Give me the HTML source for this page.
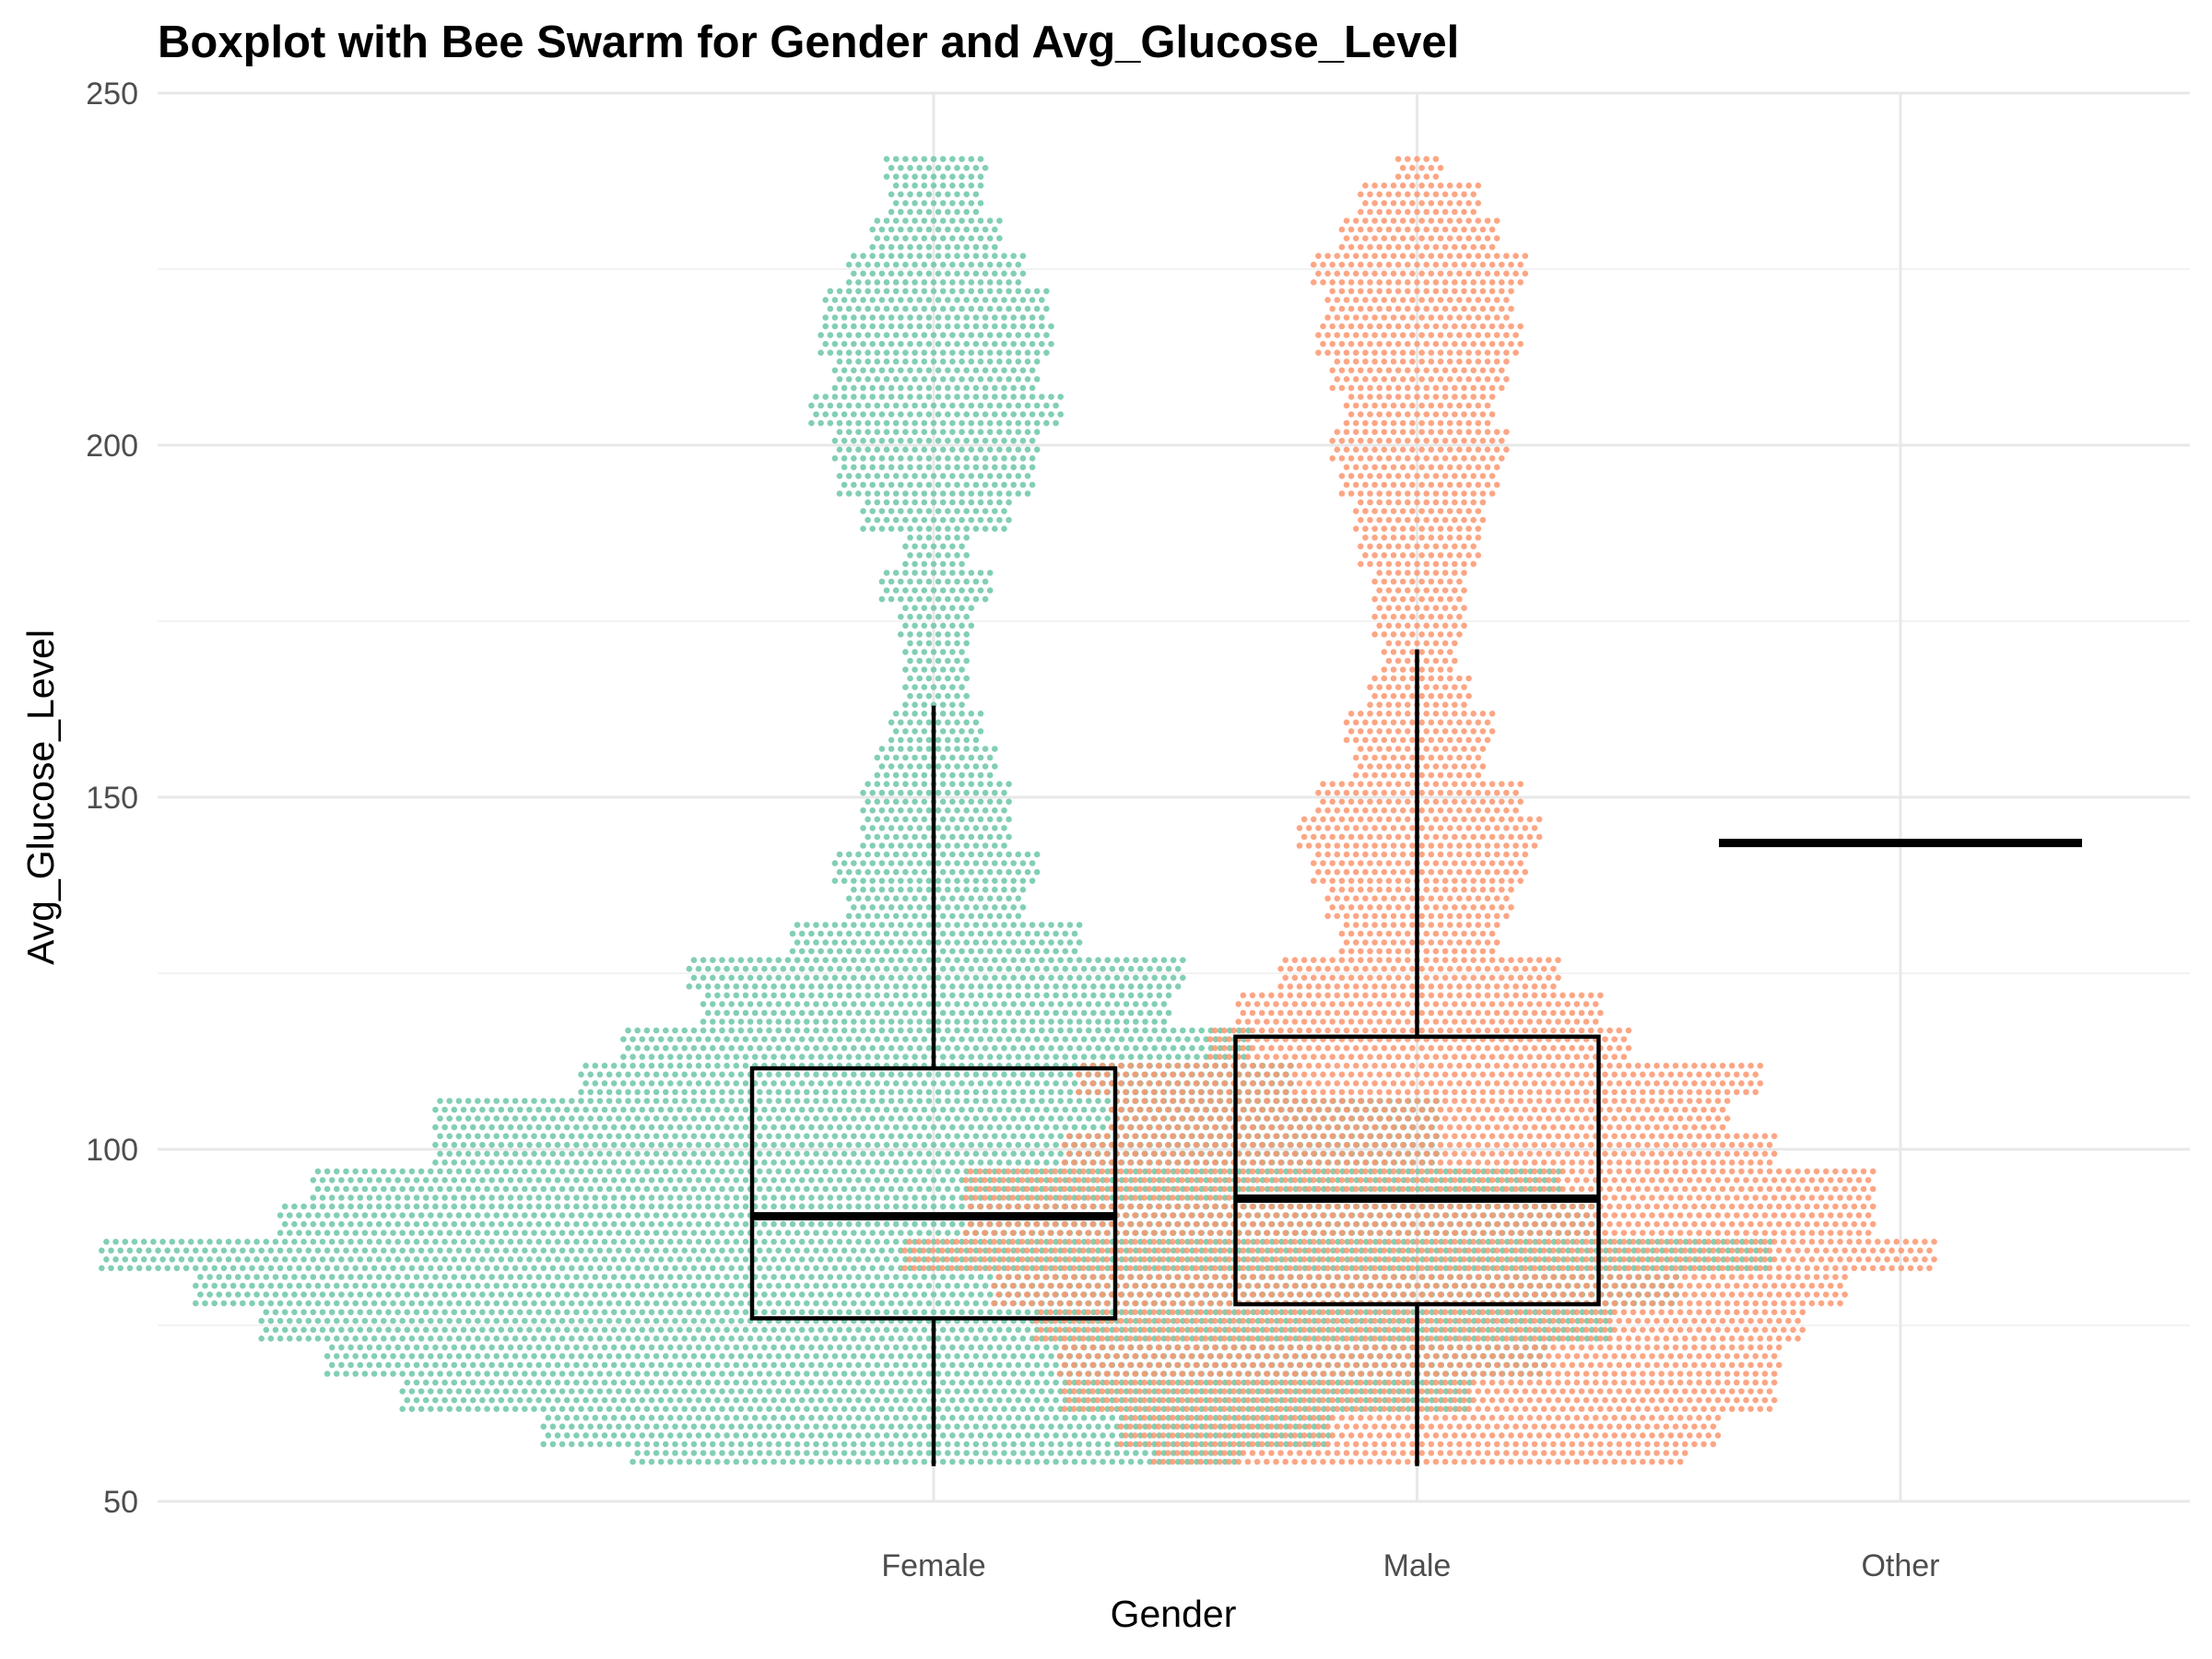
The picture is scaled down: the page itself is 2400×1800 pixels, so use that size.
<!DOCTYPE html>
<html><head><meta charset="utf-8"><style>
html,body{margin:0;padding:0;background:#fff}
svg{display:block;font-family:"Liberation Sans",Arial,sans-serif}
</style></head><body>
<svg id="chart" width="2400" height="1800" viewBox="0 0 2400 1800" xmlns="http://www.w3.org/2000/svg">
<rect width="2400" height="1800" fill="#fff"/>
<g id="grid"></g>
<g id="swarm"></g>
<g id="boxes"></g>
<g id="axes"></g>
<text x="171" y="62" font-size="49" font-weight="bold" fill="#000">Boxplot with Bee Swarm for Gender and Avg_Glucose_Level</text>
<text x="1273" y="1765" font-size="41" text-anchor="middle" fill="#000">Gender</text>
<text transform="translate(58,865) rotate(-90)" font-size="41" text-anchor="middle" fill="#000">Avg_Glucose_Level</text>
</svg>
<script>
const categories = ["Female","Male","Other"];
const yTicks = [50,100,150,200,250];
const yMinor = [75,125,175,225];
const levels = [55,60,65,70,75,80,85,90,95,100,105,110,115,120,125,130,135,140,145,150,155,160,165,170,175,180,185,190,195,200,205,210,215,220,225,230,235,240];
const femaleCounts = [65,84,114,130,144,158,178,140,133,107,107,76,67,50,53,31,19,22,16,16,13,10,7,7,8,12,7,16,21,22,27,22,25,24,19,14,10,11];
const maleCounts = [57,64,76,77,82,91,110,97,97,76,66,73,45,39,30,17,20,23,26,22,14,16,11,8,10,10,13,14,17,19,16,19,22,20,23,17,13,5];
// box stats: [whiskerLow, q1, median, q3, whiskerHigh]
const femaleBox = [55,76,90.5,111.5,163];
const maleBox = [55,78,93,116,171];
const otherBox = [143.5,143.5,143.5,143.5,143.5];

const NS="http://www.w3.org/2000/svg";
const L=171,R=2376,T=101,B=1629;
const yS=v=>B-(v-50)/(200)*(B-T);
const xS=i=>1013+i*524.5;
function mk(tag,attrs,parent){const e=document.createElementNS(NS,tag);for(const k in attrs)e.setAttribute(k,attrs[k]);parent.appendChild(e);return e;}
const grid=document.getElementById('grid'),sw=document.getElementById('swarm'),bx=document.getElementById('boxes'),ax=document.getElementById('axes');
yMinor.forEach(v=>{const l=mk('line',{x1:L,x2:R,y1:yS(v),y2:yS(v),stroke:'#efefef','stroke-width':1.6},grid);

});
yTicks.forEach(v=>{const l=mk('line',{x1:L,x2:R,y1:yS(v),y2:yS(v),stroke:'#e8e8e8','stroke-width':3},grid);


const t=mk('text',{x:150,y:yS(v)+12,'font-size':34,'text-anchor':'end',fill:'#4d4d4d'},ax);t.textContent=v;

});
categories.forEach((c,i)=>{const l=mk('line',{x1:xS(i),x2:xS(i),y1:T,y2:B,stroke:'#e8e8e8','stroke-width':3},grid);


const t=mk('text',{x:xS(i),y:1710,'font-size':34,'text-anchor':'middle',fill:'#4d4d4d'},ax);t.textContent=c;

});

const rowOffsets=[-1.875,-0.625,0.625,1.875];
function swarm(counts,ci,color,name){
  const g=mk('g',{fill:color,'fill-opacity':0.85},sw);
  
  
  const cx=xS(ci),sp=10.2;
  levels.forEach((lv,k)=>{
    const n=counts[k];
    rowOffsets.forEach((d,ri)=>{
      const v=lv+d; if(v<55||v>241) return;
      const off=(ri%2===0)?0:sp/2;
      for(let j=0;j<n;j++){
        const x=cx+(j-(n-1)/2)*sp+off;
        mk('circle',{cx:x.toFixed(1),cy:yS(v).toFixed(1),r:3.3},g);
      }
    });
  });
}
swarm(femaleCounts,0,'#6cc7a6','swarm-female');
swarm(maleCounts,1,'#fb9670','swarm-male');

function box(s,ci,name){
  const g=mk('g',{stroke:'#000',fill:'none'},bx);
  
  
  const cx=xS(ci),hw=197;
  mk('line',{x1:cx,x2:cx,y1:yS(s[0]),y2:yS(s[1]),'stroke-width':4.5},g);
  mk('line',{x1:cx,x2:cx,y1:yS(s[3]),y2:yS(s[4]),'stroke-width':4.5},g);
  mk('rect',{x:cx-hw,y:yS(s[3]),width:2*hw,height:yS(s[1])-yS(s[3]),'stroke-width':4.5},g);
  mk('line',{x1:cx-hw,x2:cx+hw,y1:yS(s[2]),y2:yS(s[2]),'stroke-width':9},g);
}
box(femaleBox,0,'boxplot-female');
box(maleBox,1,'boxplot-male');
box(otherBox,2,'boxplot-other');
</script>
</body></html>
